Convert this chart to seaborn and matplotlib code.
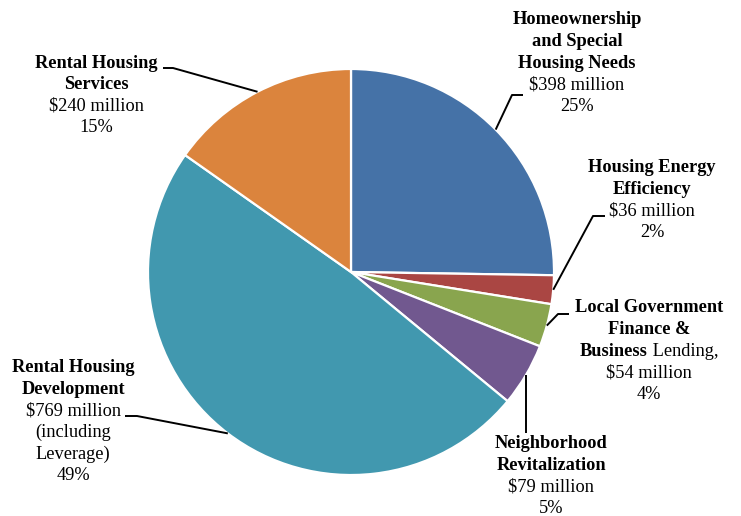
import numpy as np
import matplotlib
matplotlib.use("Agg")
import matplotlib.pyplot as plt
import seaborn as sns

# ---- data ----
categories = ["Homeownership and Special Housing Needs", "Housing Energy Efficiency",
              "Local Government Finance & Business Lending", "Neighborhood Revitalization",
              "Rental Housing Development", "Rental Housing Services"]
values = [398, 36, 54, 79, 769, 240]          # $ million
percents = ["25%", "2%", "4%", "5%", "49%", "15%"]
colors = ["#4572A7", "#AA4643", "#89A54E", "#71588F", "#4198AF", "#DB843D"]

# label lines: (text pieces [(text, bold)], ...)
label_lines = [
    [[("Homeownership", True)], [("and Special", True)], [("Housing Needs", True)],
     [("$398 million", False)], [("25%", False)]],
    [[("Housing Energy", True)], [("Efficiency", True)], [("$36 million", False)], [("2%", False)]],
    [[("Local Government", True)], [("Finance &", True)],
     [("Business", True), (" Lending,", False)], [("$54 million", False)], [("4%", False)]],
    [[("Neighborhood", True)], [("Revitalization", True)], [("$79 million", False)], [("5%", False)]],
    [[("Rental Housing", True)], [("Development", True)], [("$769 million", False)],
     [("(including", False)], [("Leverage)", False)], [("49%", False)]],
    [[("Rental Housing", True)], [("Services", True)], [("$240 million", False)], [("15%", False)]],
]

# ---- layout (pixel units, y from top) ----
W, H = 741, 516
CX, CY, R = 351, 272, 203
explode = [0.018, 0, 0, 0, 0.025, 0.012]
label_pos = [(577, 20), (652, 168), (649, 308), (551, 444), (73, 368), (96, 63)]
line_step = 21.6
leader_start = [(523, 95), (605, 216), (569, 314), (None, 433), (125, 416), (163, 68)]
leader_knee = [(512, 95), (593, 216), (558, 314), None, (137, 416), (173, 68)]

sns.set_theme(style="white")
plt.rcParams["font.family"] = ["Liberation Serif", "DejaVu Serif"]
FS = 13.2

fig = plt.figure(figsize=(W / 100, H / 100), dpi=100)
ax = fig.add_axes([0, 0, 1, 1])

wedges, _ = ax.pie(values, colors=colors, startangle=90, counterclock=False,
                   radius=R, center=(CX, H - CY), explode=explode,
                   wedgeprops=dict(edgecolor="white", linewidth=1.6))
ax.set_xlim(0, W)
ax.set_ylim(0, H)
ax.set_aspect("equal")
ax.axis("off")

renderer = fig.canvas.get_renderer()

for i, lines in enumerate(label_lines):
    lx, ly = label_pos[i]
    for j, pieces in enumerate(lines):
        y = H - (ly + j * line_step)
        if len(pieces) == 1:
            txt, bold = pieces[0]
            ax.text(lx, y, txt, ha="center", va="center", fontsize=FS,
                    fontweight="bold" if bold else "normal", color="black")
        else:
            objs = [ax.text(0, y, t, ha="left", va="center", fontsize=FS,
                            fontweight="bold" if b else "normal", color="black")
                    for t, b in pieces]
            widths = [o.get_window_extent(renderer=renderer).width for o in objs]
            x = lx - sum(widths) / 2
            for o, w in zip(objs, widths):
                o.set_x(x)
                x += w

# leader lines
for i, w in enumerate(wedges):
    mid = np.deg2rad((w.theta1 + w.theta2) / 2)
    ex = w.center[0] + w.r * np.cos(mid)
    ey = w.center[1] + w.r * np.sin(mid)
    sx, sy = leader_start[i]
    if sx is None:
        xs = [ex, ex]
        ys = [H - sy, ey]
    else:
        kx, ky = leader_knee[i]
        xs = [sx, kx, ex]
        ys = [H - sy, H - ky, ey]
    ax.plot(xs, ys, color="black", lw=1.4, solid_capstyle="butt")

fig.savefig("out.png", dpi=100, facecolor="white")
